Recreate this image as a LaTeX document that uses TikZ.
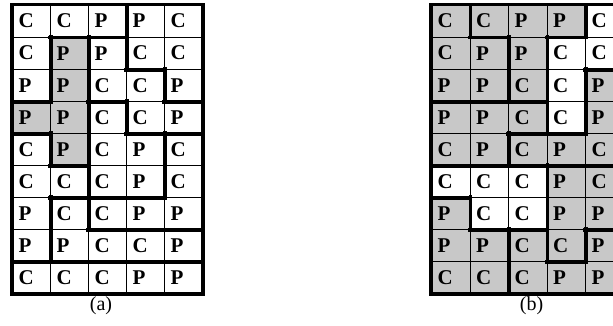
\documentclass[tikz,border=0pt]{standalone}
\usepackage{fontspec}
\setmainfont{Liberation Serif}
\definecolor{gc}{RGB}{200,200,200}
\colorlet{wc}{white}
\begin{document}
\begin{tikzpicture}[x=1pt,y=-1pt,
  cella/.style={rectangle, draw=black, line width=1.1pt, anchor=north west,
    inner xsep=6pt, inner ysep=0pt, text width=26pt, align=left,
    minimum height=32.06pt, font=\fontsize{21}{21}\selectfont\bfseries},
  cellb/.style={cella, text width=26.5pt},
  heavy/.style={line width=3.6pt, line cap=rect},
  caption/.style={font=\fontsize{20}{20}\selectfont}]
\useasboundingbox (0,0) rectangle (613,325);
\clip (0,0) rectangle (613,325);
% grid (a): letter / fill / district
\foreach \row [count=\r] in {
  {C/wc/1,C/wc/1,P/wc/1,P/wc/2,C/wc/2},
  {C/wc/1,P/gc/0,P/wc/3,C/wc/2,C/wc/2},
  {P/wc/1,P/gc/0,C/wc/3,C/wc/3,P/wc/2},
  {P/gc/0,P/gc/0,C/wc/4,C/wc/3,P/wc/3},
  {C/wc/6,P/gc/0,C/wc/4,P/wc/4,C/wc/5},
  {C/wc/6,C/wc/6,C/wc/4,P/wc/4,C/wc/5},
  {P/wc/6,C/wc/7,C/wc/5,P/wc/5,P/wc/5},
  {P/wc/6,P/wc/7,C/wc/7,C/wc/7,P/wc/7},
  {C/wc/8,C/wc/8,C/wc/8,P/wc/8,P/wc/8}}{
  \foreach \l/\f/\d [count=\c] in \row {
    \node[cella, fill=\f] (a-\r-\c) at ({12+38*(\c-1)},{4.5+32.06*(\r-1)}) {\l};
    \expandafter\xdef\csname dista-\r-\c\endcsname{\d}
  }
}
% grid (b)
\foreach \row [count=\r] in {
  {C/gc/1,C/gc/2,P/gc/2,P/gc/2,C/wc/3},
  {C/gc/1,P/gc/1,P/gc/2,C/wc/3,C/wc/3},
  {P/gc/1,P/gc/1,C/gc/2,C/wc/3,P/gc/5},
  {P/gc/4,P/gc/4,C/gc/4,C/wc/3,P/gc/5},
  {C/gc/4,P/gc/4,C/gc/5,P/gc/5,C/gc/5},
  {C/wc/6,C/wc/6,C/wc/6,P/gc/7,C/gc/7},
  {P/gc/8,C/wc/6,C/wc/6,P/gc/7,P/gc/7},
  {P/gc/8,P/gc/8,C/gc/9,C/gc/7,P/gc/9},
  {C/gc/8,C/gc/8,C/gc/9,P/gc/9,P/gc/9}}{
  \foreach \l/\f/\d [count=\c] in \row {
    \node[cellb, fill=\f] (b-\r-\c) at ({431+38.5*(\c-1)},{4.5+32.06*(\r-1)}) {\l};
    \expandafter\xdef\csname distb-\r-\c\endcsname{\d}
  }
}
% heavy district borders
\foreach \g in {a,b}{
  \draw[heavy] (\g-1-1.north west) rectangle (\g-9-5.south east);
  \foreach \r in {1,...,8}{
    \foreach \c in {1,...,5}{
      \pgfmathtruncatemacro{\rn}{\r+1}
      \ifnum\csname dist\g-\r-\c\endcsname=\csname dist\g-\rn-\c\endcsname\relax
      \else
        \draw[heavy] (\g-\r-\c.south west) -- (\g-\r-\c.south east);
      \fi
    }
  }
  \foreach \r in {1,...,9}{
    \foreach \c in {1,...,4}{
      \pgfmathtruncatemacro{\cn}{\c+1}
      \ifnum\csname dist\g-\r-\c\endcsname=\csname dist\g-\r-\cn\endcsname\relax
      \else
        \draw[heavy] (\g-\r-\c.north east) -- (\g-\r-\c.south east);
      \fi
    }
  }
}
% captions
\node[caption] (capa) at (101,306) {(a)};
\node[caption] (capb) at (531.5,306) {(b)};
\end{tikzpicture}
\end{document}
